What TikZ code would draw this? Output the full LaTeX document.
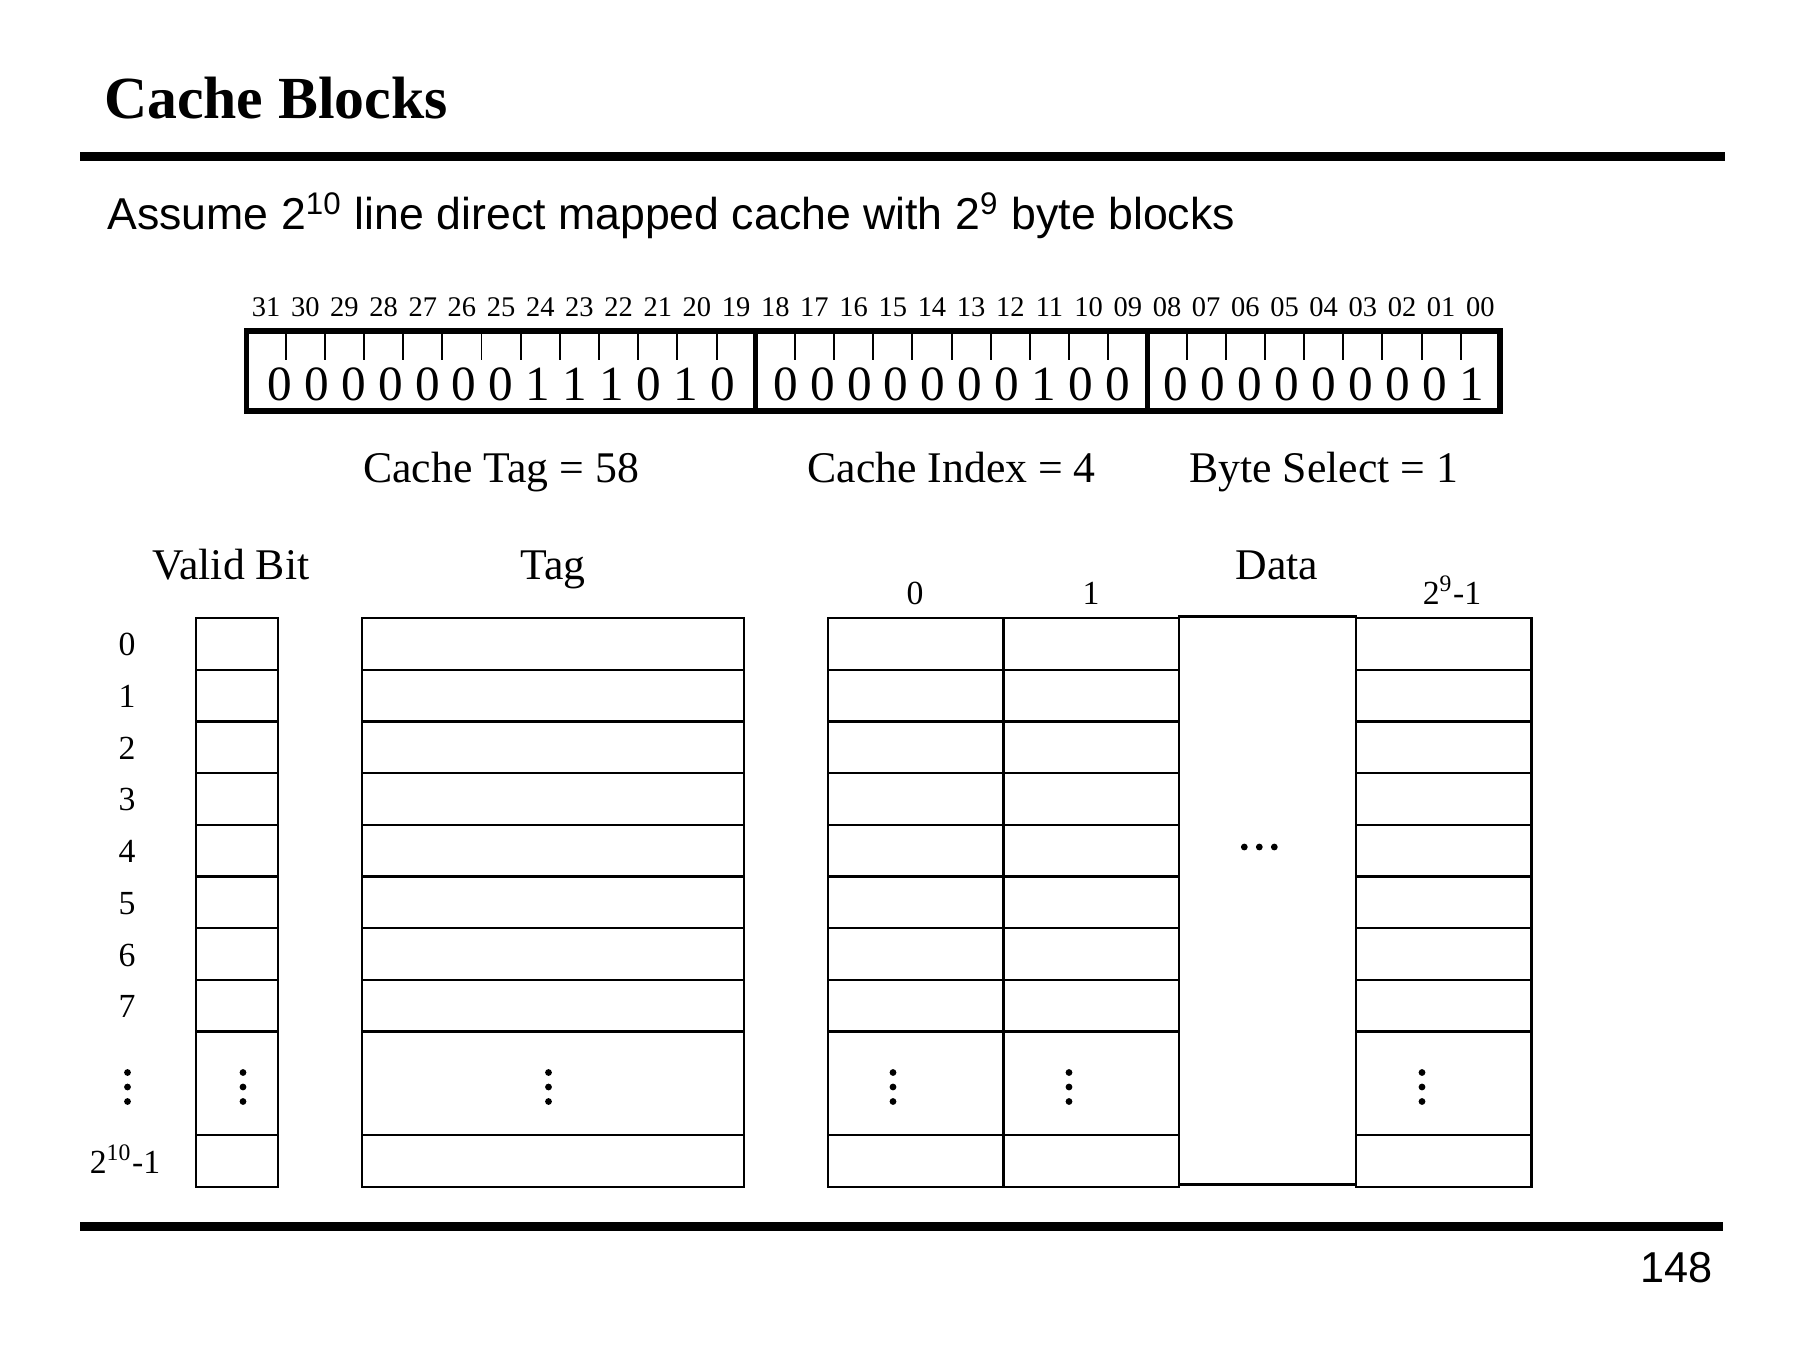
\documentclass[tikz,border=0pt]{standalone}
\usepackage{fontspec}
\setmainfont{Liberation Serif}
\newfontfamily\sansfam{Liberation Sans}

% one cache column: outer frame plus the row separators
% (rows 0..7, a double-height "more rows" band, then the last row)
\newcommand\cachecol[2]{%
  \draw[cellline] (#1,618) rectangle (#2,1186.7);
  \foreach \j in {1,...,8,10}
    \draw[cellline] (#1,{618+\j*51.7}) -- (#2,{618+\j*51.7});
}
% vertical and horizontal dot ellipses
\newcommand\vdotsat[2]{%
  \fill (#1,{#2-14.5}) circle (3.4) (#1,#2) circle (3.4) (#1,{#2+14.5}) circle (3.4);
}
\newcommand\hdotsat[2]{%
  \fill ({#1-15},#2) circle (3.4) (#1,#2) circle (3.4) ({#1+15},#2) circle (3.4);
}

\begin{document}
\begin{tikzpicture}[x=0.1mm,y=-0.1mm,
  txt/.style={inner sep=0pt,outer sep=0pt,anchor=base},
  titletext/.style={txt,anchor=base west,font=\fontsize{17}{20}\selectfont\bfseries},
  subtext/.style={txt,anchor=base west,font=\sansfam\fontsize{12.7}{15}\selectfont},
  pagenum/.style={txt,anchor=base east,font=\sansfam\fontsize{12.3}{15}\selectfont},
  bitnum/.style={txt,font=\fontsize{8.1}{9}\selectfont},
  bitval/.style={txt,font=\fontsize{14}{16}\selectfont},
  colhead/.style={txt,font=\fontsize{12.45}{15}\selectfont},
  idx/.style={txt,font=\fontsize{9.6}{11}\selectfont},
  cellline/.style={line width=0.65pt},
  slidebar/.style={line width=0.9mm},
  addrbox/.style={line width=1.5pt},
  bittick/.style={line width=0.55pt}
]
\fill[white] (0,0) rectangle (1800,1350);
\useasboundingbox (0,0) rectangle (1800,1350);

% heading, rules and page number
\node[titletext] (title) at (104,119) {Cache Blocks};
\draw[slidebar] (80,157) -- (1725,157);
\node[subtext] (intro) at (107.5,229.6)
  {Assume 2\textsuperscript{10} line direct mapped cache with 2\textsuperscript{9} byte blocks};
\draw[slidebar] (80,1226) -- (1723,1226);
\node[pagenum] (page) at (1713,1282) {148};

% 32-bit address: bit numbers, frame, ticks and field dividers
\foreach \i in {0,...,31} {
  \pgfmathsetmacro\cx{246.5+(31-\i+0.5)*39.17}
  \node[bitnum] (n\i) at (\cx,316) {\ifnum\i<10 0\fi\i};
}
\draw[addrbox] (246.5,331) rectangle (1500,411);
\foreach \k in {1,...,31} {
  \ifnum\k=13 \else\ifnum\k=23 \else
    \draw[bittick] ({246.5+\k*39.17},331) -- ({246.5+\k*39.17},360);
  \fi\fi
}
\draw[addrbox] ({246.5+13*39.17},331) -- ({246.5+13*39.17},411);
\draw[addrbox] ({246.5+23*39.17},331) -- ({246.5+23*39.17},411);

\node[bitval] (tagbits) at ({246.5+6.5*39.17},400) {0 0 0 0 0 0 0 1 1 1 0 1 0};
\node[bitval] (idxbits) at ({246.5+18*39.17},400) {0 0 0 0 0 0 0 1 0 0};
\node[bitval] (selbits) at ({246.5+27.5*39.17},400) {0 0 0 0 0 0 0 0 1};

\node[colhead] (tagval) at ({246.5+6.5*39.17},482) {Cache Tag = 58};
\node[colhead] (idxval) at ({246.5+18*39.17},482) {Cache Index = 4};
\node[colhead] (selval) at ({246.5+27.5*39.17},482) {Byte Select = 1};

% column headings
\node[colhead] (hvalid) at (231,579) {Valid Bit};
\node[colhead] (htag) at (553,579) {Tag};
\node[colhead] (hdata) at (1277,579) {Data};
\node[idx] (byte0) at (915,604) {0};
\node[idx] (byte1) at (1091,604) {1};
\node[idx] (bytelast) at (1452,604) {2\textsuperscript{9}-1};

% line numbers
\foreach \r in {0,...,7}
  \node[idx] (line\r) at (127,{618+(\r+0.5)*51.7+12}) {\r};
\node[idx] (linelast) at (125,1173) {2\textsuperscript{10}-1};

% cache arrays
\cachecol{196}{278}
\cachecol{362}{744}
\cachecol{827.7}{1003.4}
\cachecol{1003.4}{1179}
\draw[cellline] (1179,616.5) rectangle (1355.8,1184.5);
\cachecol{1355.8}{1531.4}

% elided rows and bytes
\vdotsat{127.5}{1087}
\vdotsat{243}{1087}
\vdotsat{548.5}{1087}
\vdotsat{893}{1087}
\vdotsat{1069}{1087}
\vdotsat{1422}{1087}
\hdotsat{1259.3}{847}
\end{tikzpicture}
\end{document}
